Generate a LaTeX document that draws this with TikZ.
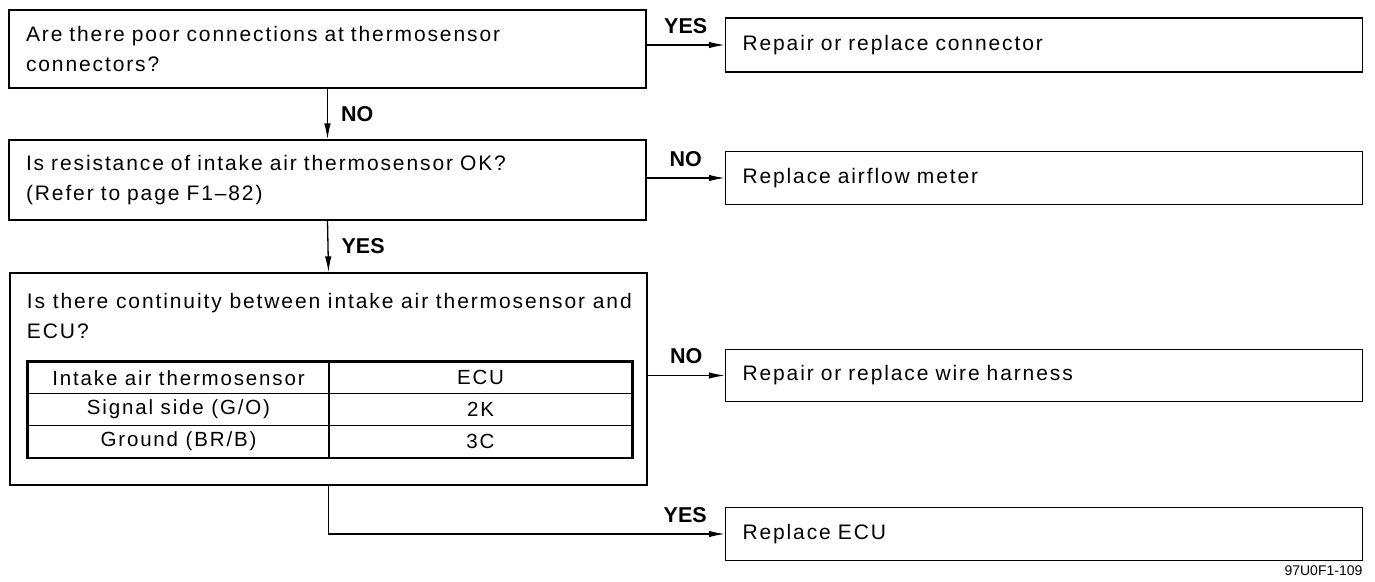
\documentclass[tikz,border=0pt]{standalone}
\usepackage{fontspec}
\setmainfont{Liberation Sans}
\newfontfamily\trackedfont[LetterSpace=9]{Liberation Sans}
\usetikzlibrary{arrows.meta}

\begin{document}
\begin{tikzpicture}[x=1pt, y=-1pt, line width=1.3pt,
    stepbox/.style={draw, inner xsep=17pt, inner ysep=0pt, text width=603pt,
      align=left, font=\trackedfont\fontsize{21}{30}\selectfont},
    cell/.style={draw, line width=1.1pt, inner sep=0pt, minimum height=31.7pt,
      font=\trackedfont\fontsize{20.5}{30}\selectfont},
    answer/.style={inner sep=0pt, font=\bfseries\fontsize{21.5}{24}\selectfont},
    flow/.style={-{Latex[length=16pt, width=6.5pt]}}]

  \useasboundingbox (0, 0) rectangle (1375, 581);

  % Questions
  \node[stepbox, minimum height=78pt] (q1) at (327.5, 49)
    {Are there poor connections at thermosensor\\connectors?};
  \node[stepbox, minimum height=80pt] (q2) at (327.5, 180)
    {Is resistance of intake air thermosensor OK?\\(Refer to page F1–82)};
  \node[stepbox, minimum height=212pt] (q3) at (328.5, 379) {};
  \node[anchor=base west, inner sep=0pt, align=left,
    font=\trackedfont\fontsize{21}{30}\selectfont] (q3text)
    at ([xshift=17pt, yshift=-66pt]q3.north west)
    {Is there continuity between intake air thermosensor and\\ECU?};

  % Terminal table
  \node[cell, minimum width=301pt] (t11) at (178.5, 377.8) {Intake air thermosensor};
  \node[cell, minimum width=303pt] (t12) at (480.5, 377.8) {ECU};
  \node[cell, minimum width=301pt] (t21) at (178.5, 409.5) {Signal side (G/O)};
  \node[cell, minimum width=303pt] (t22) at (480.5, 409.5) {2K};
  \node[cell, minimum width=301pt] (t31) at (178.5, 441.2) {Ground (BR/B)};
  \node[cell, minimum width=303pt] (t32) at (480.5, 441.2) {3C};
  \draw[line width=2pt] (t11.north west) rectangle (t32.south east);

  % Actions
  \node[stepbox, minimum height=54pt] (r1) at (1044, 45) {Repair or replace connector};
  \node[stepbox, minimum height=53pt] (r2) at (1044, 178) {Replace airflow meter};
  \node[stepbox, minimum height=52pt] (r3) at (1044, 375.5) {Repair or replace wire harness};
  \node[stepbox, minimum height=53pt] (r4) at (1044, 534) {Replace ECU};

  % Main path down
  \draw[flow] (q1.south) -- node[answer, right=13pt] (no1) {NO} (q2.north);
  \draw[flow] (q2.south) -- node[answer, right=13pt] (yes2) {YES} (q3.north);

  % Branches to the right
  \draw[flow] (q1.east |- r1.west) -- node[answer, above=11pt] (yes1) {YES} (r1.west);
  \draw[flow] (q2.east |- r2.west) -- node[answer, above=11pt] (no2) {NO} (r2.west);
  \draw[flow] (q3.east |- r3.west) -- node[answer, above=11pt] (no3) {NO} (r3.west);
  \coordinate (bend) at (q3.south |- r4.west);
  \draw[flow] (q3.south) -- (bend) -- node[answer, pos=0.9, above=11pt] (yes4) {YES} (r4.west);

  % Figure code
  \node[anchor=base east, inner sep=0pt, font=\fontsize{14}{16}\selectfont] (code)
    at (1363, 575) {97U0F1-109};
\end{tikzpicture}
\end{document}
